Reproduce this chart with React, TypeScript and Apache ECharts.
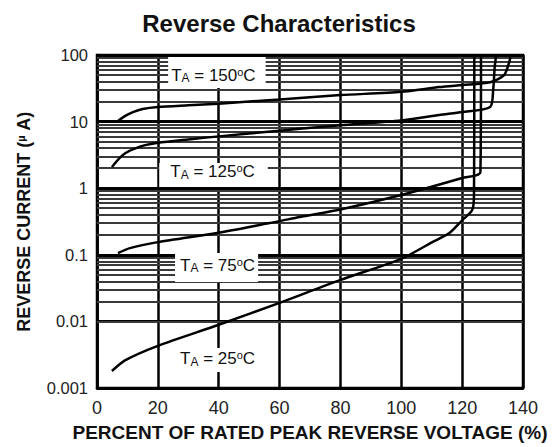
import React, { useEffect, useRef } from 'react';
import * as echarts from 'echarts';

// ---- data ----
const xTickValues = [0, 20, 40, 60, 80, 100, 120, 140];
const yTickLabels = ['0.001', '0.01', '0.1', '1', '10', '100'];
const minorGridValues = [
  0.002, 0.003, 0.004, 0.005, 0.006, 0.007, 0.008, 0.009,
  0.02, 0.03, 0.04, 0.05, 0.06, 0.07, 0.08, 0.09,
  0.2, 0.3, 0.4, 0.5, 0.6, 0.7, 0.8, 0.9,
  2, 3, 4, 5, 6, 7, 8, 9,
  20, 30, 40, 50, 60, 70, 80, 90,
];

const t150X = [6.9, 9, 11.8, 15, 20, 30, 40, 60, 80, 100, 112.5, 120, 129.2, 133.8, 135.4, 136];
const t150Y = [10.2, 12, 13.9, 15.5, 16.6, 17.6, 18.6, 21.5, 25, 28, 33, 35.5, 39, 50, 76, 100];

const t125X = [4.9, 8.5, 14.1, 20, 30, 40, 60, 66.6, 80, 100, 112.5, 120, 129.2, 130.2, 130.7, 131.2];
const t125Y = [2.08, 3.16, 4.2, 4.8, 5.4, 6.0, 7.3, 7.8, 8.8, 10.4, 12.6, 13.9, 16.6, 30, 66, 100];

const t75X = [6.9, 10.8, 20, 40, 56.7, 60, 66.6, 80, 100, 120, 126, 126.2];
const t75Y = [0.106, 0.126, 0.155, 0.215, 0.3, 0.32, 0.37, 0.48, 0.79, 1.42, 1.75, 100];

const t25X = [4.9, 9.2, 20, 40, 60, 80, 100, 110.2, 115.7, 120, 123.3, 123.9, 124];
const t25Y = [0.0018, 0.0026, 0.0043, 0.0089, 0.019, 0.042, 0.087, 0.155, 0.21, 0.33, 0.47, 0.8, 100];

const curveNames = ['TA = 150°C', 'TA = 125°C', 'TA = 75°C', 'TA = 25°C'];
const labelTemps = ['150', '125', '75', '25'];
const labelX = [39.4, 38.3, 39.3, 39.3];
const labelY = [54.6, 1.58, 0.0644, 0.00263];

// ---- styles ----
const labelPaddings = [
  [9, 10, 4, 3],
  [0, 13, 6, 11],
  [3, 3, 8, 5],
  [1.5, 3, 4.5, 5],
];
const FONT = 'Liberation Sans, Arial, sans-serif';

const zip = (xs: number[], ys: number[]) => xs.map((x, i) => [x, ys[i]]);

export default function App() {
  const ref = useRef<HTMLDivElement>(null);
  useEffect(() => {
    document.body.style.margin = '0';
    const chart = echarts.init(ref.current!, null, { renderer: 'svg' });
    const curves = [zip(t150X, t150Y), zip(t125X, t125Y), zip(t75X, t75Y), zip(t25X, t25Y)];
    const option: any = {
      animation: false,
      backgroundColor: '#fff',
      title: {
        text: 'Reverse Characteristics',
        left: 'center',
        top: 6,
        textStyle: { fontFamily: FONT, fontWeight: 'bold', fontSize: 24, color: '#111' },
      },
      grid: {
        left: 97, right: 35, top: 55, bottom: 59,
        show: true, borderColor: '#000', borderWidth: 2.5, backgroundColor: '#fff',
      },
      xAxis: {
        type: 'value', min: 0, max: 140, interval: 20,
        name: 'PERCENT OF RATED PEAK REVERSE VOLTAGE (%)',
        nameLocation: 'middle', nameGap: 35,
        nameTextStyle: { fontFamily: FONT, fontWeight: 'bold', fontSize: 19, color: '#111' },
        axisLine: { show: true, lineStyle: { color: '#000', width: 2.5 } },
        axisTick: { show: false },
        axisLabel: {
          margin: 11, fontSize: 18, color: '#222', fontFamily: FONT,
          formatter: (v: number) => (xTickValues.includes(v) ? String(v) : ''),
        },
        splitLine: { show: true, lineStyle: { color: '#000', width: 2.5 } },
      },
      yAxis: {
        type: 'log', logBase: 10, min: 0.001, max: 100,
        name: 'REVERSE CURRENT ({mu|µ} A)',
        nameLocation: 'middle', nameGap: 64,
        nameTextStyle: {
          fontFamily: FONT, fontWeight: 'bold', fontSize: 18, color: '#111',
          rich: { mu: { fontFamily: FONT, fontSize: 11, color: '#111', verticalAlign: 'top', lineHeight: 11 } },
        },
        axisLine: { show: true, lineStyle: { color: '#000', width: 2.5 } },
        axisTick: { show: false },
        axisLabel: {
          margin: 9, fontSize: 16.5, color: '#222', fontFamily: FONT, padding: [6, 0, 0, 0],
          formatter: (v: number) => yTickLabels[Math.round(Math.log10(v)) + 3] ?? '',
        },
        splitLine: { show: true, lineStyle: { color: '#000', width: 3 } },
      },
      series: [
        {
          type: 'line', name: 'minor', data: [], z: 1, silent: true,
          markLine: {
            silent: true, symbol: 'none', label: { show: false }, z: 1,
            lineStyle: { color: '#3a3a3a', width: 2, type: 'solid' },
            data: minorGridValues.map((v) => ({ yAxis: v })),
          },
        },
        ...curves.map((d, i) => ({
          type: 'line', name: curveNames[i], data: d, z: 3,
          showSymbol: false, smooth: 0.25,
          lineStyle: { color: '#000', width: 2.5 },
        })),
        {
          type: 'scatter', name: 'labels', z: 10, symbolSize: 0, silent: true,
          itemStyle: { opacity: 1 },
          data: labelX.map((x, i) => ({
            value: [x, labelY[i]],
            label: { padding: labelPaddings[i] },
          })),
          label: {
            show: true, position: 'inside', backgroundColor: '#fff', opacity: 1,
            formatter: (p: any) => `{t|T}{s|A}{t| = ${labelTemps[p.dataIndex]}}{o|o}{t|C}`,
            rich: {
              t: { fontFamily: FONT, fontSize: 17, color: '#111', lineHeight: 18 },
              s: { fontFamily: FONT, fontSize: 12, color: '#111', lineHeight: 10, verticalAlign: 'bottom' },
              o: { fontFamily: FONT, fontSize: 11, color: '#111', lineHeight: 10, verticalAlign: 'top' },
            },
          },
        },
      ],
    };
    chart.setOption(option);
    return () => chart.dispose();
  }, []);
  return <div ref={ref} style={{ width: 558, height: 447 }} />;
}
